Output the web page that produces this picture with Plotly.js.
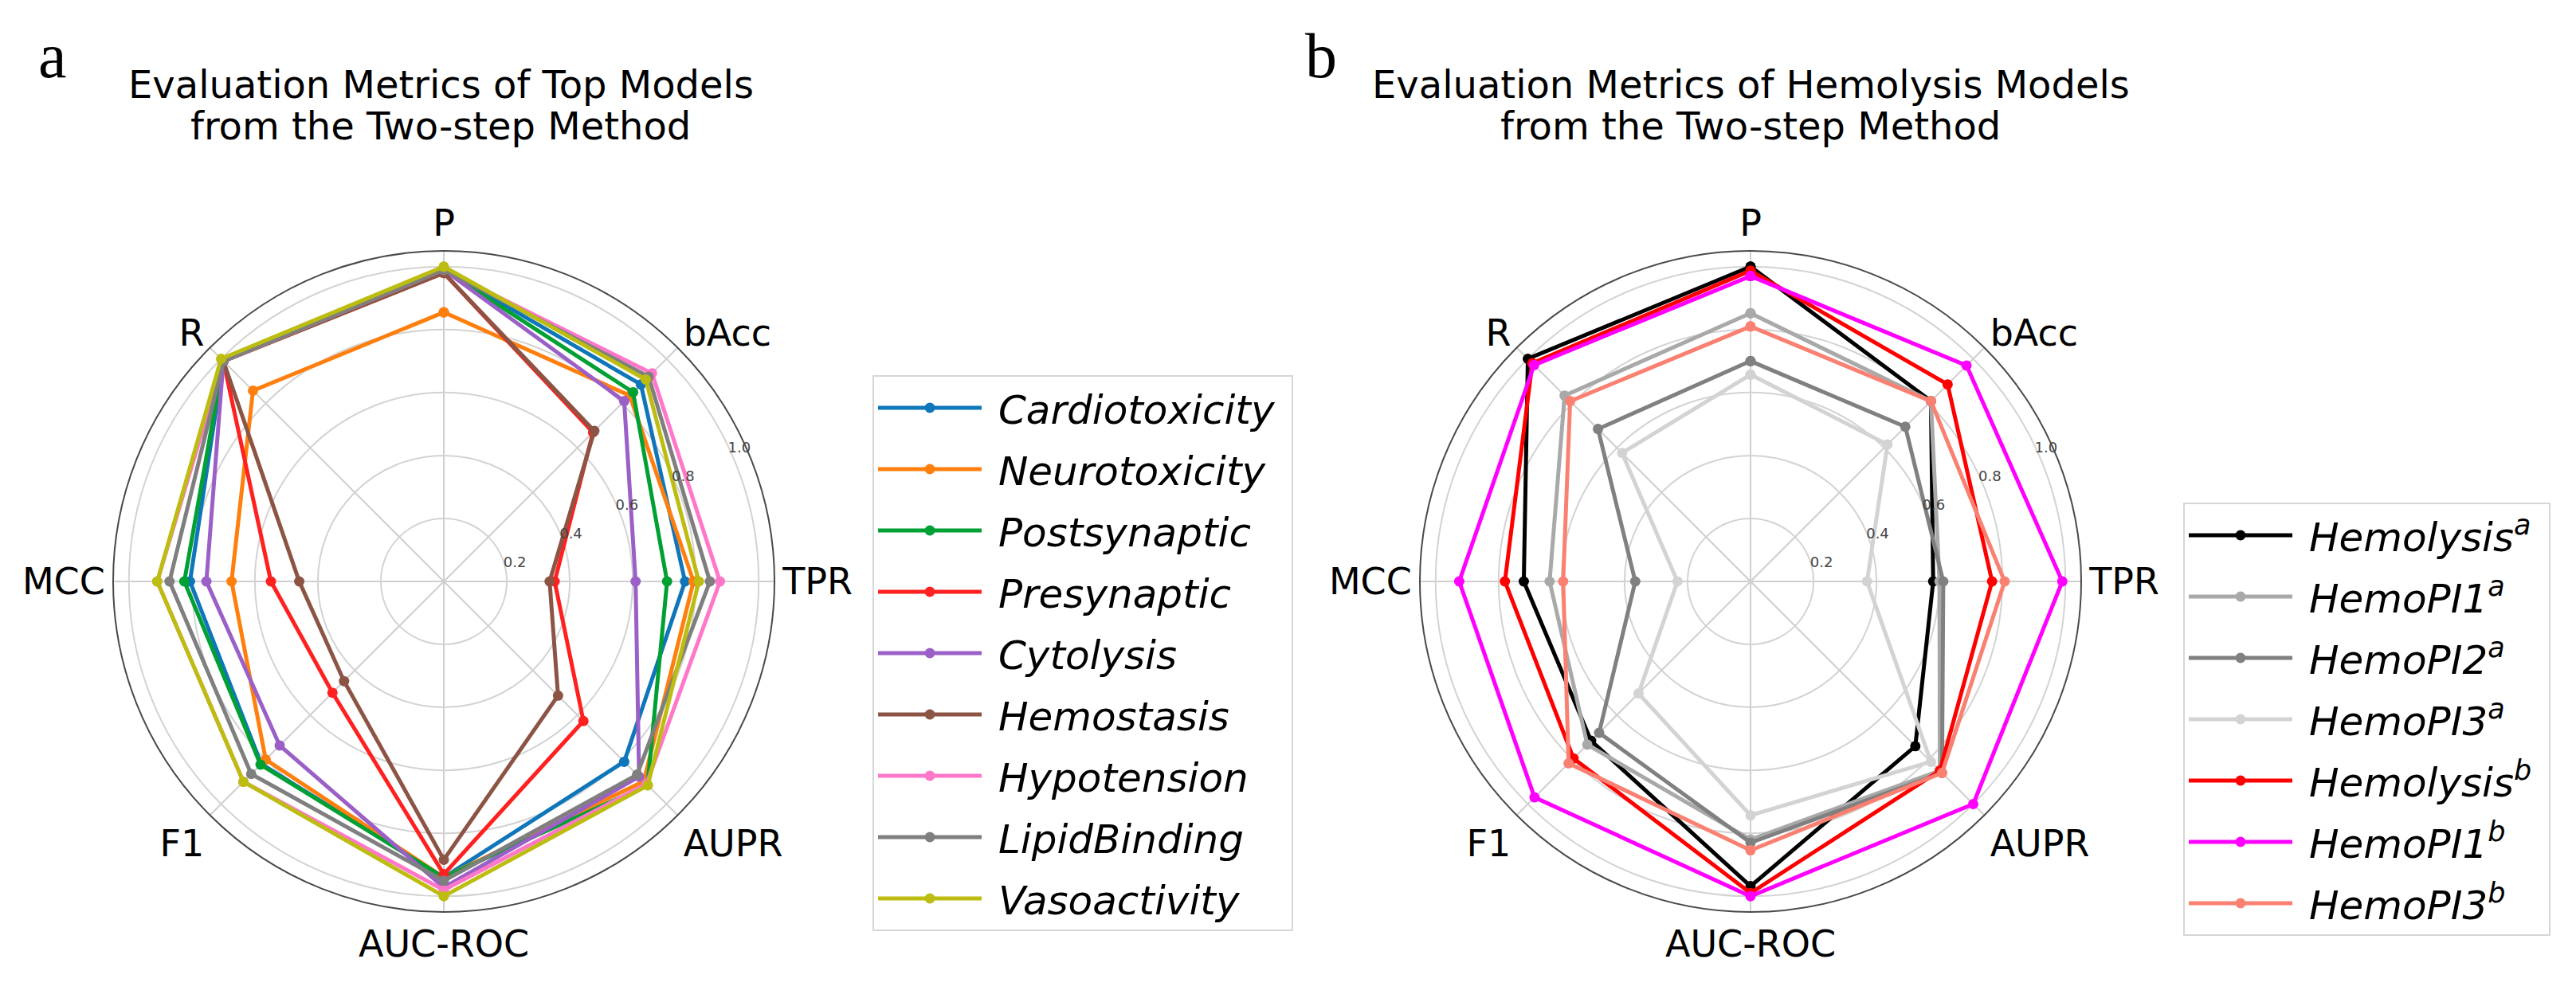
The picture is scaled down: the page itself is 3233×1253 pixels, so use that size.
<!DOCTYPE html>
<html>
<head>
<meta charset="utf-8">
<script src="https://cdn.plot.ly/plotly-3.0.1.min.js"></script>
<style>
  html, body { margin: 0; padding: 0; background: #ffffff; }
  #chart { width: 3233px; height: 1253px; }
</style>
</head>
<body>
<div id="chart"></div>
<script>
// ---------- data ----------
const metrics = ['P', 'bAcc', 'TPR', 'AUPR', 'AUC-ROC', 'F1', 'MCC', 'R'];
const radialTickVals = [0.2, 0.4, 0.6, 0.8, 1.0];
const radialTickText = ['0.2', '0.4', '0.6', '0.8', '1.0'];

// panel a – top models
const modelNamesA = ['Cardiotoxicity', 'Neurotoxicity', 'Postsynaptic', 'Presynaptic', 'Cytolysis',
                     'Hemostasis', 'Hypotension', 'LipidBinding', 'Vasoactivity'];
const cardiotoxicity = [0.99, 0.885, 0.766, 0.81, 0.94, 0.82, 0.806, 0.99];
const neurotoxicity  = [0.855, 0.835, 0.793, 0.898, 0.94, 0.80, 0.674, 0.857];
const postsynaptic   = [0.99, 0.85, 0.709, 0.915, 0.94, 0.823, 0.824, 0.99];
const presynaptic    = [0.98, 0.67, 0.352, 0.627, 0.93, 0.50, 0.549, 0.99];
const cytolysis      = [0.99, 0.81, 0.609, 0.877, 0.972, 0.737, 0.754, 0.99];
const hemostasis     = [0.98, 0.676, 0.336, 0.513, 0.884, 0.448, 0.459, 0.99];
const hypotension    = [0.99, 0.935, 0.877, 0.91, 0.98, 0.90, 0.91, 0.99];
const lipidBinding   = [0.99, 0.92, 0.845, 0.868, 0.951, 0.865, 0.871, 0.99];
const vasoactivity   = [1.0, 0.907, 0.81, 0.916, 1.0, 0.90, 0.91, 1.0];
const valuesA = [cardiotoxicity, neurotoxicity, postsynaptic, presynaptic, cytolysis,
                 hemostasis, hypotension, lipidBinding, vasoactivity];
const colorsA = ['#0e76b9', '#ff7f0e', '#00a032', '#ff2020', '#9b5fc8',
                 '#8c5444', '#ff77c8', '#7f7f7f', '#bcbd10'];

// panel b – hemolysis models
const modelNamesB = ['Hemolysis<sup>a</sup>', 'HemoPI1<sup>a</sup>', 'HemoPI2<sup>a</sup>', 'HemoPI3<sup>a</sup>',
                     'Hemolysis<sup>b</sup>', 'HemoPI1<sup>b</sup>', 'HemoPI3<sup>b</sup>'];
const hemolysisA = [1.0, 0.81, 0.58, 0.74, 0.968, 0.716, 0.72, 1.0];
const hemoPI1A   = [0.852, 0.81, 0.60, 0.85, 0.82, 0.733, 0.638, 0.835];
const hemoPI2A   = [0.70, 0.695, 0.612, 0.86, 0.83, 0.68, 0.366, 0.685];
const hemoPI3A   = [0.657, 0.615, 0.37, 0.81, 0.743, 0.503, 0.232, 0.577];
const hemolysisB = [0.987, 0.885, 0.767, 0.85, 0.99, 0.795, 0.78, 0.98];
const hemoPI1B   = [0.97, 0.97, 0.99, 1.0, 1.0, 0.97, 0.925, 0.972];
const hemoPI3B   = [0.81, 0.81, 0.807, 0.86, 0.854, 0.817, 0.595, 0.81];
const valuesB = [hemolysisA, hemoPI1A, hemoPI2A, hemoPI3A, hemolysisB, hemoPI1B, hemoPI3B];
const colorsB = ['#000000', '#a9a9a9', '#808080', '#d3d3d3', '#ff0000', '#ff00ff', '#fa8072'];

// ---------- traces ----------
const closed = arr => arr.concat([arr[0]]);
const pad = s => '&nbsp;' + s + '&nbsp;';
const traces = [];
modelNamesA.forEach((name, i) => {
  traces.push({
    type: 'scatterpolar', mode: 'lines+markers', subplot: 'polar', legend: 'legend',
    legendgroup: 'a' + i,
    name: pad(name), theta: closed(metrics), r: closed(valuesA[i]),
    line: { color: colorsA[i], width: 5 },
    marker: { color: colorsA[i], size: 13 },
    hoverinfo: 'name+theta+r'
  });
});
modelNamesB.forEach((name, i) => {
  traces.push({
    type: 'scatterpolar', mode: 'lines+markers', subplot: 'polar2', legend: 'legend2',
    legendgroup: 'b' + i,
    name: pad(name), theta: closed(metrics), r: closed(valuesB[i]),
    line: { color: colorsB[i], width: 5 },
    marker: { color: colorsB[i], size: 13 },
    hoverinfo: 'name+theta+r'
  });
});

// ---------- layout ----------
const W = 3233, H = 1253;
function polarCfg(cx) {
  const cy = 730, R = 415;
  return {
    domain: { x: [(cx - R) / W, (cx + R) / W], y: [1 - (cy + R) / H, 1 - (cy - R) / H] },
    bgcolor: '#ffffff',
    angularaxis: {
      type: 'category', categoryorder: 'array', categoryarray: metrics,
      rotation: 90, direction: 'clockwise',
      showline: true, linecolor: '#4a4a4a', linewidth: 2,
      showgrid: true, gridcolor: '#cfcfcf', gridwidth: 2,
      ticks: '', tickfont: { family: 'DejaVu Sans', size: 46, color: '#000000' }
    },
    radialaxis: {
      range: [0, 1.05], tickmode: 'array', tickvals: radialTickVals, ticktext: radialTickText,
      angle: 27, tickangle: 27, side: 'clockwise',
      showline: false, ticks: '',
      showgrid: true, gridcolor: '#d3d3d3', gridwidth: 2,
      tickfont: { family: 'DejaVu Sans', size: 18, color: '#444444' }
    }
  };
}
const legendCommon = {
  orientation: 'v', xanchor: 'left', yanchor: 'top',
  bgcolor: '#ffffff', bordercolor: '#d6d6d6', borderwidth: 2,
  font: { family: 'DejaVu Sans', size: 50, color: '#000000', style: 'italic' },
  itemwidth: 130, tracegroupgap: 9, itemclick: false, itemdoubleclick: false
};
const titleFont = { family: 'DejaVu Sans', size: 48, color: '#000000' };
const letterFont = { family: 'Liberation Serif', size: 80, color: '#000000' };
const ann = (text, x, y, font) => ({
  text: text, xref: 'paper', yref: 'paper', x: x / W, y: 1 - y / H,
  xanchor: 'center', yanchor: 'middle', showarrow: false, font: font
});

const layout = {
  width: W, height: H,
  margin: { l: 0, r: 0, t: 0, b: 0, pad: 0 },
  paper_bgcolor: '#ffffff',
  font: { family: 'DejaVu Sans', color: '#000000' },
  showlegend: true,
  polar: polarCfg(557),
  polar2: polarCfg(2197),
  legend: Object.assign({}, legendCommon, { x: 1095 / W, y: 1 - 471 / H }),
  legend2: Object.assign({}, legendCommon, { x: 2740 / W, y: 1 - 631 / H }),
  annotations: [
    ann('a', 66, 70, letterFont),
    ann('b', 1658, 70, letterFont),
    ann('Evaluation Metrics of Top Models', 553, 106, titleFont),
    ann('from the Two-step Method', 553, 158, titleFont),
    ann('Evaluation Metrics of Hemolysis Models', 2197, 106, titleFont),
    ann('from the Two-step Method', 2197, 158, titleFont)
  ]
};

Plotly.newPlot('chart', traces, layout, { displayModeBar: false, staticPlot: true });
</script>
</body>
</html>
